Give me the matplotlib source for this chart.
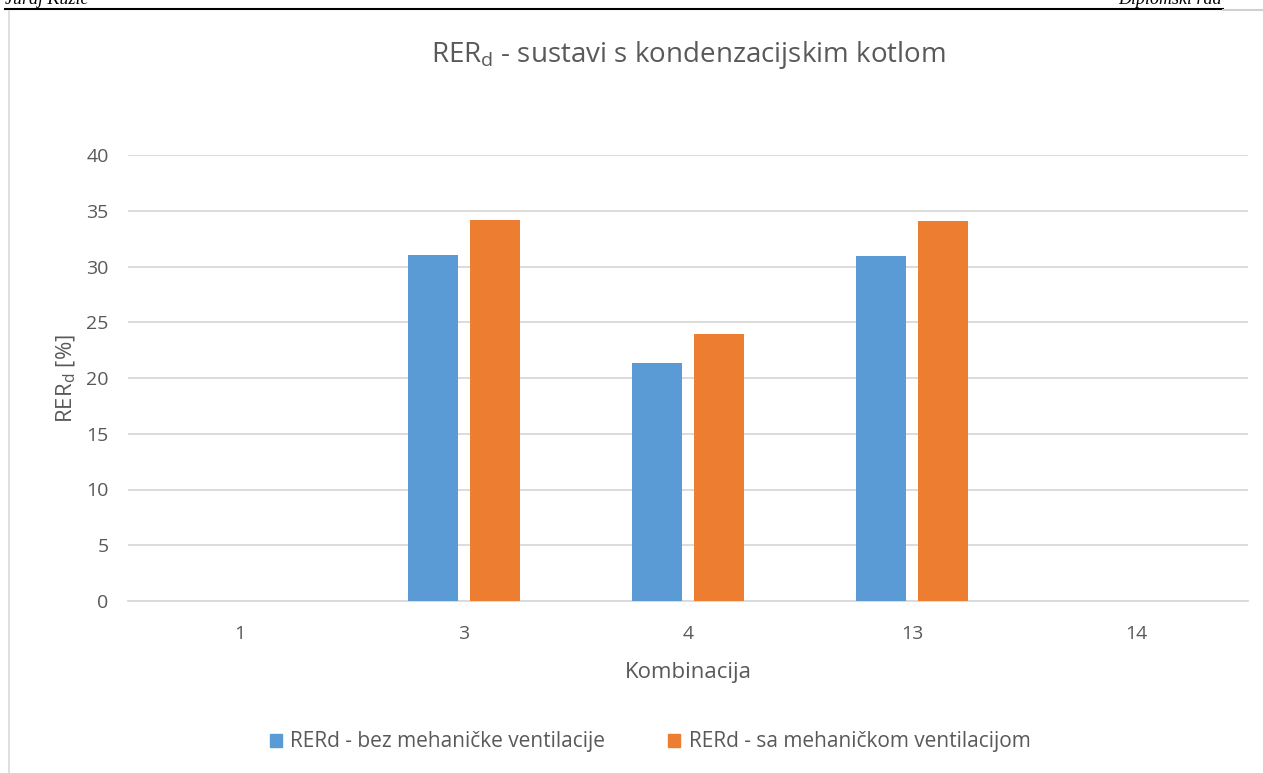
import matplotlib
matplotlib.use("Agg")
from matplotlib import pyplot as plt
from matplotlib.patches import Patch
import numpy as np

# Data
kombinacije = ["1", "3", "4", "13", "14"]
bez_meh = [0, 31.05, 21.35, 30.9, 0]
sa_meh = [0, 34.2, 23.95, 34.1, 0]
yticks = [0, 5, 10, 15, 20, 25, 30, 35, 40]

BLUE = "#5B9BD5"
ORANGE = "#ED7D31"
GREY = "#595959"
GRID = "#D9D9D9"

plt.rcParams["font.family"] = ["Open Sans", "DejaVu Sans"]

W, H = 1263, 773
fig = plt.figure(figsize=(W / 100, H / 100), dpi=100)

# page header (cut off at top of the image)
fig.add_artist(plt.Line2D([5 / W, 1223 / W], [1 - 9 / H, 1 - 9 / H], color="black", lw=1.5))
fig.add_artist(plt.Line2D([1223 / W, 1 - 0.0001], [1 - 10 / H, 1 - 10 / H], color="#D0D0D0", lw=1.5))
fig.text(5 / W, 1 - 4 / H, "Juraj Kuzić", family="Liberation Serif", style="italic",
         fontsize=13, va="baseline", ha="left")
fig.text(1222 / W, 1 - 4 / H, "Diplomski rad", family="Liberation Serif", style="italic",
         fontsize=13, va="baseline", ha="right")
# chart border
fig.add_artist(plt.Line2D([9 / W, 9 / W], [0, 1 - 11 / H], color="#D9D9D9", lw=1.2))

ax = fig.add_axes([128 / W, 1 - 601 / H, 1120 / W, 446 / H])
x = np.arange(len(kombinacije))
w = 0.223
ax.bar(x - 0.139, bez_meh, w, color=BLUE, zorder=3)
ax.bar(x + 0.139, sa_meh, w, color=ORANGE, zorder=3)

ax.set_xlim(-0.5, len(kombinacije) - 0.5)
ax.set_ylim(0, 40)
ax.set_yticks(yticks)
ax.set_xticks(x)
ax.set_xticklabels(kombinacije)
ax.yaxis.grid(True, color=GRID, lw=1.3, zorder=0)
ax.tick_params(axis="both", length=0, labelsize=14, colors=GREY)
ax.tick_params(axis="y", pad=14)
ax.tick_params(axis="x", pad=17)
for s in ["top", "right", "left"]:
    ax.spines[s].set_visible(False)
ax.spines["bottom"].set_color(GRID)
ax.spines["bottom"].set_linewidth(1.3)

ax.set_xlabel("Kombinacija", fontsize=16, color=GREY, labelpad=14)
ax.set_ylabel("RER$_\\mathregular{d}$ [%]", fontsize=16, color=GREY, labelpad=6)
fig.text(688 / W, 1 - 55 / H, "RER$_\\mathregular{d}$ - sustavi s kondenzacijskim kotlom",
         fontsize=20, color=GREY, ha="center", va="center")

handles = [Patch(color=BLUE), Patch(color=ORANGE)]
fig.legend(handles, ["RERd - bez mehaničke ventilacije", "RERd - sa mehaničkom ventilacijom"],
           loc="center", bbox_to_anchor=(650 / W, 1 - 742 / H), ncol=2, frameon=False,
           fontsize=15, labelcolor=GREY, handlelength=0.6, handleheight=0.6,
           handletextpad=0.4, columnspacing=3.0)

fig.savefig("out.png", dpi=100)
